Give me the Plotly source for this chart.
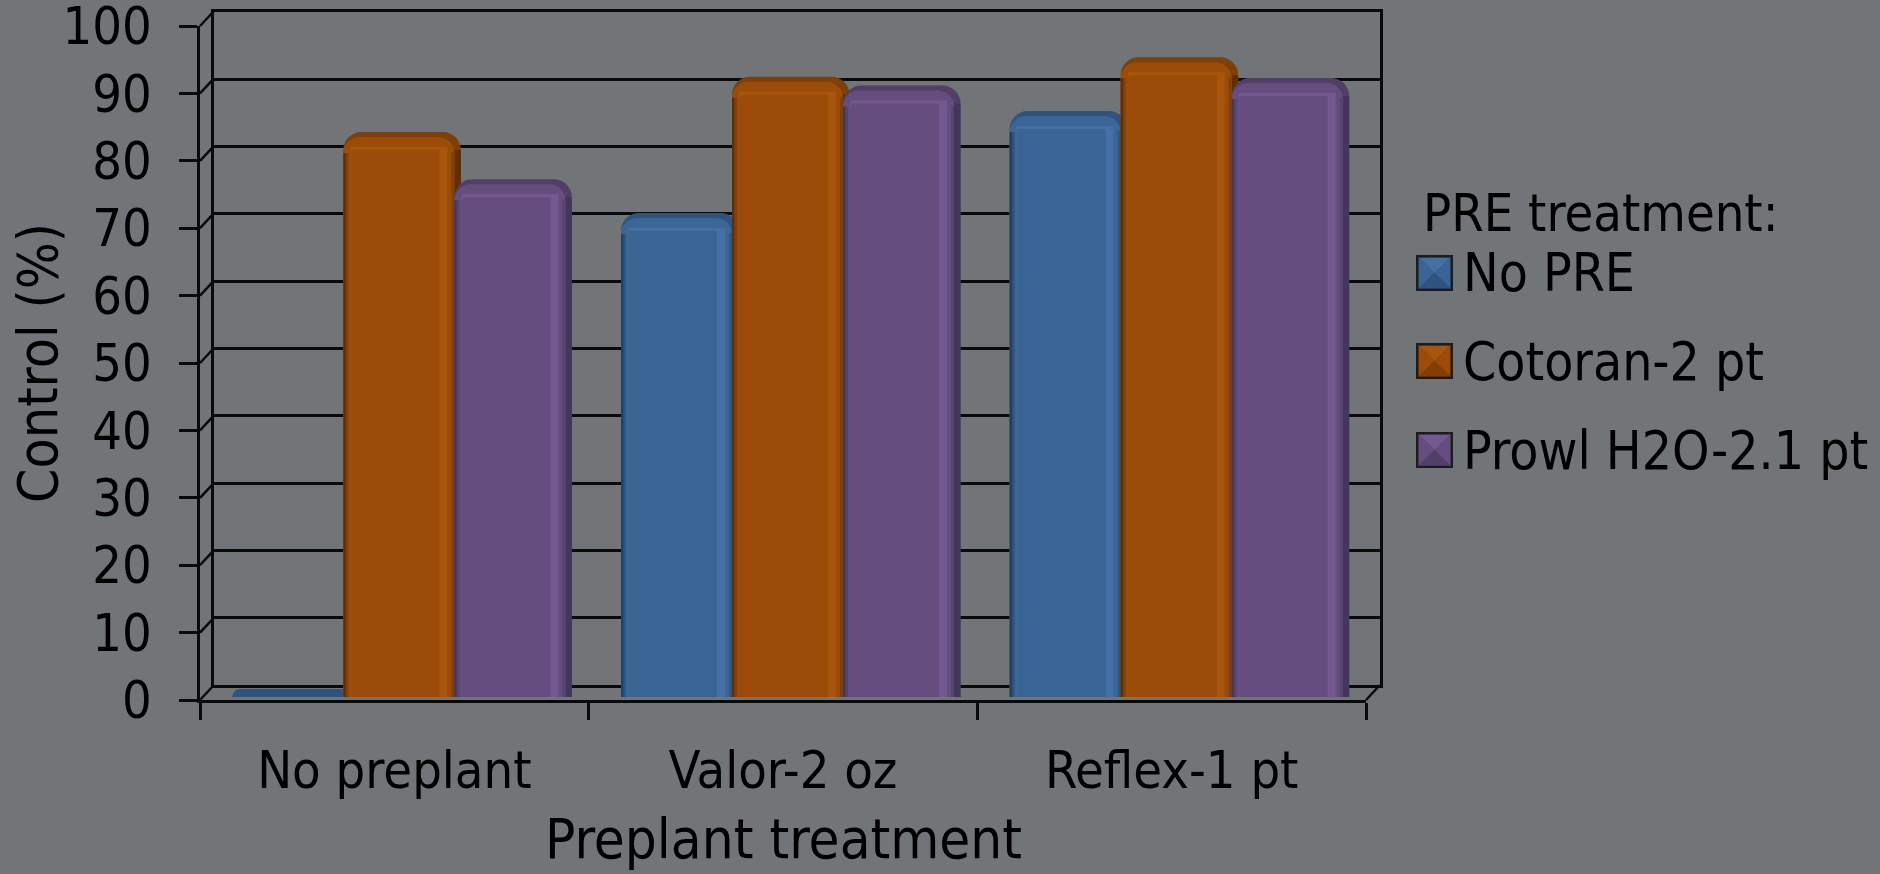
import plotly.graph_objects as go

categories = ["No preplant", "Valor-2 oz", "Reflex-1 pt"]
series_names = ["No PRE", "Cotoran-2 pt", "Prowl H2O-2.1 pt"]
no_pre = [0, 69.6, 84.7]
cotoran = [81.6, 89.8, 92.7]
prowl = [74.6, 88.5, 89.6]
y_ticks = [0, 10, 20, 30, 40, 50, 60, 70, 80, 90, 100]
legend_title = "PRE treatment:"
x_title = "Preplant treatment"
y_title = "Control (%)"

W, H = 1880, 874
BG = "#717577"
INK = "#0a0a0a"
FONT = "DejaVu Sans Condensed"
FS = 52
LW = 2.5

FRONT = dict(l=200, r=1366, t=26, b=700)
BACK = dict(l=214, r=1380, t=12, b=685)
BARS = dict(l=204.5, r=1370.5, t=23, b=697)
BAR_W = 111
UNIT_X = (BARS["r"] - BARS["l"]) / 3
UNIT_Y = (BARS["b"] - BARS["t"]) / 100


def fx(p):
    return p / W


def fy(p):
    return 1 - p / H


palettes = [
    dict(side="#2B4A70", cap="#2E5380", bevel="#3B6696", hl="#4470A4", face="#3A6494", e0="#223E60", e1="#305580"),
    dict(side="#5E2F03", cap="#7F3F05", bevel="#9A4C08", hl="#A8560D", face="#9A4C08", e0="#5F2F03", e1="#80400A"),
    dict(side="#44365A", cap="#513F67", bevel="#654E7F", hl="#73598F", face="#654E7F", e0="#46375A", e1="#574570"),
]
# relative x-from, x-to, top offset above the value (px), palette key, corner radius
layers = [
    (0, 117.5, 15, "cap", 18),
    (111, 117.5, -3, "side", 0),
    (0, 111, 10, "bevel", 16),
    (7, 104, 0, "hl", 0),
    (96, 104, -3, "hl", 0),
    (104, 108, -5, "bevel", 0),
    (108, 111, -5, "e1", 0),
    (8, 96, -3, "face", 0),
    (5, 8, -6, "bevel", 0),
    (2.5, 5, -6, "e1", 0),
    (0, 2.5, -6, "e0", 0),
]

fig = go.Figure()

# Back wall subplot, bars subplot and front axis subplot need a trace to exist
fig.add_trace(go.Scatter(x=categories, y=[None] * 3, mode="none", xaxis="x", yaxis="y", showlegend=False, hoverinfo="skip"))

all_values = [no_pre, cotoran, prowl]
for s, (name, vals, pal) in enumerate(zip(series_names, all_values, palettes)):
    start = -3 * BAR_W / 2 / UNIT_X + s * BAR_W / UNIT_X
    for i, (a, b, top, key, rad) in enumerate(layers):
        ys = []
        for v in vals:
            if v == 0:
                ys.append(8 / UNIT_Y if i == 0 else None)
            else:
                ys.append(v + top / UNIT_Y)
        fig.add_trace(go.Bar(
            x=categories, y=ys, name=name,
            xaxis="x2", yaxis="y2",
            offset=start + a / UNIT_X, width=(b - a) / UNIT_X,
            marker=dict(color=pal[key], line=dict(width=0), cornerradius=rad),
            showlegend=False, hoverinfo="skip",
        ))

fig.add_trace(go.Scatter(x=categories, y=[None] * 3, mode="none", xaxis="x3", yaxis="y3", showlegend=False, hoverinfo="skip"))

shapes = []
# Depth connectors of the 3D frame
dy_per = (FRONT["b"] - FRONT["t"]) / 100
for t in y_ticks:
    y0 = FRONT["b"] - t * dy_per
    shapes.append(dict(type="line", xref="paper", yref="paper", layer="below",
                       x0=fx(FRONT["l"]), y0=fy(y0), x1=fx(BACK["l"]), y1=fy(y0 - 15),
                       line=dict(color=INK, width=LW)))
shapes.append(dict(type="line", xref="paper", yref="paper", layer="below",
                   x0=fx(FRONT["r"]), y0=fy(FRONT["b"]), x1=fx(BACK["r"]), y1=fy(BACK["b"]),
                   line=dict(color=INK, width=LW)))

ink_font = dict(family=FONT, size=FS, color="#000000")
# Axis titles and legend (manual, to reach the pyramid swatches and the spacing of the reference)
annotations = [
    dict(text=x_title, xref="paper", yref="paper", x=fx(783), y=fy(838), xanchor="center", yanchor="middle",
         showarrow=False, font=dict(family=FONT, size=56, color="#000000")),
    dict(text=y_title, xref="paper", yref="paper", x=fx(38), y=fy(363), xanchor="center", yanchor="middle",
         showarrow=False, textangle=-90, font=dict(family=FONT, size=55, color="#000000")),
    dict(text=legend_title, xref="paper", yref="paper", x=fx(1421), y=fy(213),
         xanchor="left", yanchor="middle", showarrow=False, font=ink_font),
]
legend_y = [273, 361, 450]
for name, pal, cy in zip(series_names, palettes, legend_y):
    annotations.append(dict(text=name, xref="paper", yref="paper", x=fx(1461), y=fy(cy),
                            xanchor="left", yanchor="middle", showarrow=False,
                            font=dict(family=FONT, size=53, color="#000000")))
    x0, x1, y0, y1 = 1417, 1452, cy - 17, cy + 17
    xc, yc = (x0 + x1) / 2, (y0 + y1) / 2
    shapes.append(dict(type="rect", xref="paper", yref="paper", layer="above",
                       x0=fx(x0), x1=fx(x1), y0=fy(y0), y1=fy(y1),
                       fillcolor=pal["e0"], line=dict(color="#1c1c1c", width=2)))
    tris = [
        ((x0 + 2, y0 + 2), (x1 - 2, y0 + 2), (xc, yc), pal["hl"]),
        ((x0 + 2, y1 - 2), (x1 - 2, y1 - 2), (xc, yc), pal["cap"]),
        ((x0 + 2, y0 + 2), (x0 + 2, y1 - 2), (xc, yc), pal["face"]),
        ((x1 - 2, y0 + 2), (x1 - 2, y1 - 2), (xc, yc), pal["face"]),
    ]
    for p1, p2, p3, col in tris:
        path = "M{} {} L{} {} L{} {} Z".format(fx(p1[0]), fy(p1[1]), fx(p2[0]), fy(p2[1]), fx(p3[0]), fy(p3[1]))
        shapes.append(dict(type="path", xref="paper", yref="paper", layer="above", path=path,
                           fillcolor=col, line=dict(width=0)))

hidden = dict(showticklabels=False, ticks="", showgrid=False, zeroline=False, showline=False, fixedrange=True)

fig.update_layout(
    width=W, height=H,
    margin=dict(l=0, r=0, t=0, b=0),
    paper_bgcolor=BG, plot_bgcolor="rgba(0,0,0,0)",
    barmode="overlay", showlegend=False, hovermode=False,
    shapes=shapes, annotations=annotations,
    font=ink_font,
    # back wall
    xaxis=dict(domain=[fx(BACK["l"]), fx(BACK["r"])], type="category", categoryorder="array",
               categoryarray=categories, range=[-0.5, 2.5], anchor="y",
               showticklabels=False, ticks="", showgrid=False, zeroline=False,
               showline=True, linecolor=INK, linewidth=LW, mirror=True, fixedrange=True),
    yaxis=dict(domain=[fy(BACK["b"]), fy(BACK["t"])], range=[0, 100], anchor="x",
               showticklabels=False, ticks="", tickvals=y_ticks, showgrid=True,
               gridcolor=INK, gridwidth=LW, zeroline=False, showline=True, linecolor=INK,
               linewidth=LW, mirror=True, fixedrange=True),
    # bars
    xaxis2=dict(domain=[fx(BARS["l"]), fx(BARS["r"])], type="category", categoryorder="array",
                categoryarray=categories, range=[-0.5, 2.5], anchor="y2", **hidden),
    yaxis2=dict(domain=[fy(BARS["b"]), fy(BARS["t"])], range=[0, 100], anchor="x2", **hidden),
    # front axes with ticks and labels
    xaxis3=dict(domain=[fx(FRONT["l"]), fx(FRONT["r"])], type="category", categoryorder="array",
                categoryarray=categories, range=[-0.5, 2.5], anchor="y3",
                tickson="boundaries", ticks="outside", ticklen=17, tickwidth=LW, tickcolor=INK,
                showline=True, linecolor=INK, linewidth=LW, showgrid=False, zeroline=False,
                ticklabelstandoff=23, tickfont=ink_font, automargin=False, fixedrange=True),
    yaxis3=dict(domain=[fy(FRONT["b"]), fy(FRONT["t"])], range=[0, 100], anchor="x3",
                tickvals=y_ticks, ticktext=[str(t) for t in y_ticks],
                ticks="outside", ticklen=18, tickwidth=LW, tickcolor=INK,
                showline=True, linecolor=INK, linewidth=LW, showgrid=False, zeroline=False,
                ticklabelstandoff=17, ticklabeloverflow="allow", tickfont=ink_font,
                automargin=False, fixedrange=True),
)

fig.write_html("out.html", config=dict(displayModeBar=False),
               post_script="document.body.style.margin='0';document.body.style.background='%s';document.documentElement.style.overflow='hidden';" % BG)
